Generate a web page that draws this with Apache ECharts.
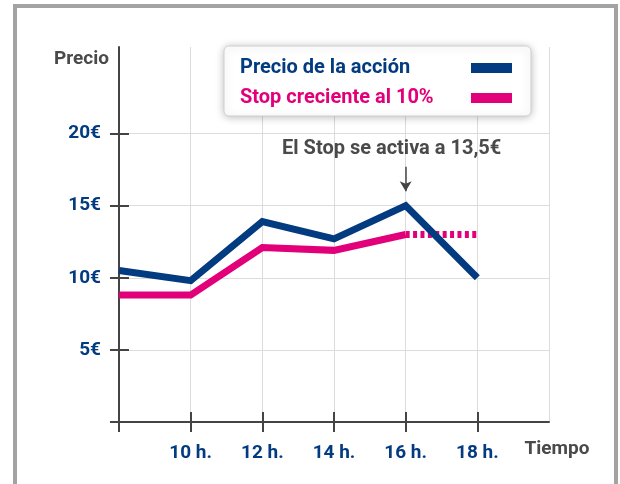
<!DOCTYPE html>
<html>
<head>
<meta charset="utf-8">
<script src="https://cdn.jsdelivr.net/npm/echarts@6/dist/echarts.min.js"></script>
<style>
  html, body { margin: 0; padding: 0; background: #fff; }
  .frame {
    position: absolute; left: 13px; top: 4px; width: 597px; height: 520px;
    border: 4px solid #a3a3a3; border-bottom: none;
  }
  #chart { position: absolute; left: 0; top: 0; width: 620px; height: 484px; }
</style>
</head>
<body>
<div class="frame"></div>
<div id="chart"></div>
<script>
// horas del día
const horas = [8, 10, 12, 14, 16, 18];
const precioAccion = [10.5, 9.8, 13.9, 12.7, 15.0, 10.0];
const stopHoras = [8, 10, 12, 14, 16];
const stopValores = [8.8, 8.8, 12.1, 11.9, 13.0];
// tramo punteado del stop tras activarse
const stopPuntHoras = [16, 18];
const stopPuntValores = [13.0, 13.0];

const yTicks = [5, 10, 15, 20];
const xLabels = [10, 12, 14, 16, 18];

const AZUL = '#033b80';
const ROSA = '#e2007a';
const GRIS = '#444';
const FONT = 'Roboto';

const pairs = (xs, ys) => xs.map((x, i) => [x, ys[i]]);

const chart = echarts.init(document.getElementById('chart'));

chart.setOption({
  animation: false,
  textStyle: { fontFamily: FONT },
  grid: { left: 119, right: 71, top: 47, bottom: 62 },
  legend: {
    orient: 'vertical',
    left: 224,
    top: 46,
    align: 'right',
    icon: 'rect',
    itemWidth: 41,
    itemHeight: 10,
    itemGap: 10,
    padding: [12, 19, 8, 16],
    backgroundColor: '#fff',
    borderColor: '#cfcfcf',
    borderWidth: 1,
    borderRadius: 5,
    shadowBlur: 8,
    shadowColor: 'rgba(0,0,0,0.25)',
    shadowOffsetY: 1,
    itemStyle: { borderWidth: 0 },
    formatter: name => '{t|' + name + '}',
    textStyle: {
      fontSize: 20, fontWeight: 'bold', fontFamily: FONT,
      rich: { t: { width: 226, height: 20, lineHeight: 20, align: 'left', fontSize: 20, fontWeight: 'bold', fontFamily: FONT } }
    },
    data: [
      { name: 'Precio de la acción', textStyle: { color: AZUL } },
      { name: 'Stop creciente al 10%', textStyle: { color: ROSA } }
    ]
  },
  xAxis: [
    {
      type: 'value', position: 'bottom', min: 8, max: 20, interval: 2,
      name: 'Tiempo', nameLocation: 'end', nameGap: 8,
      nameTextStyle: { color: '#4a4a4a', fontSize: 19, fontWeight: 'bold', align: 'center', verticalAlign: 'top', padding: [18, 0, 0, 0] },
      axisLine: { lineStyle: { color: GRIS, width: 2 } },
      axisTick: { customValues: horas, length: 10, lineStyle: { color: GRIS, width: 2 } },
      axisLabel: {
        customValues: xLabels, formatter: '{value} h.', margin: 22,
        color: AZUL, fontSize: 19, fontWeight: 'bold'
      },
      splitLine: { show: false }
    },
    {
      type: 'value', position: 'bottom', min: 8, max: 20, interval: 2,
      axisLine: { show: false },
      axisTick: { customValues: xLabels, inside: true, length: 10, lineStyle: { color: GRIS, width: 2 } },
      axisLabel: { show: false },
      splitLine: { show: false }
    },
    {
      type: 'value', position: 'bottom', min: 8, max: 20, interval: 2,
      axisLine: { show: false }, axisTick: { show: false }, axisLabel: { show: false },
      splitLine: { lineStyle: { color: '#dcdcdc', width: 1 } }
    }
  ],
  yAxis: [
    {
      type: 'value', position: 'left', min: 0, max: 26, interval: 5,
      name: 'Precio', nameLocation: 'end', nameGap: -12,
      nameTextStyle: { color: '#4a4a4a', fontSize: 19, fontWeight: 'bold', align: 'right', verticalAlign: 'middle', padding: [0, 10, 0, 0] },
      axisLine: { show: true, lineStyle: { color: GRIS, width: 2 } },
      axisTick: { show: true, customValues: [0].concat(yTicks), length: 9, lineStyle: { color: GRIS, width: 2 } },
      axisLabel: {
        customValues: yTicks, formatter: '{value}€', margin: 18,
        color: AZUL, fontSize: 19, fontWeight: 'bold'
      },
      splitLine: { show: true, lineStyle: { color: '#dcdcdc', width: 1 } }
    },
    {
      type: 'value', position: 'left', min: 0, max: 26, interval: 5,
      axisLine: { show: false },
      axisTick: { show: true, customValues: yTicks, inside: true, length: 10, lineStyle: { color: GRIS, width: 2 } },
      axisLabel: { show: false },
      splitLine: { show: false }
    }
  ],
  series: [
    {
      name: 'Stop creciente al 10%',
      type: 'line',
      data: pairs(stopHoras, stopValores),
      symbol: 'none',
      color: ROSA,
      lineStyle: { width: 7, color: ROSA, cap: 'butt', join: 'miter' },
      z: 2
    },
    {
      name: 'Stop punteado',
      type: 'line',
      data: pairs(stopPuntHoras, stopPuntValores),
      symbol: 'none',
      color: ROSA,
      lineStyle: { width: 7, color: ROSA, type: [4, 3.4], cap: 'butt' },
      z: 2
    },
    {
      name: 'Precio de la acción',
      type: 'line',
      data: pairs(horas, precioAccion),
      symbol: 'none',
      color: AZUL,
      lineStyle: { width: 7, color: AZUL, cap: 'butt', join: 'miter' },
      z: 3,
      markLine: {
        silent: true,
        symbol: ['none', 'arrow'],
        symbolSize: [9, 10],
        lineStyle: { color: GRIS, width: 1.5, type: 'solid' },
        label: {
          show: true, position: 'start', distance: 8, offset: [-14, 0],
          formatter: 'El Stop se activa a 13,5€',
          color: '#4a4a4a', fontSize: 20, fontWeight: 'bold', fontFamily: FONT
        },
        data: [[{ coord: [16, 17.7] }, { coord: [16, 16.0] }]]
      }
    }
  ]
});
</script>
</body>
</html>
